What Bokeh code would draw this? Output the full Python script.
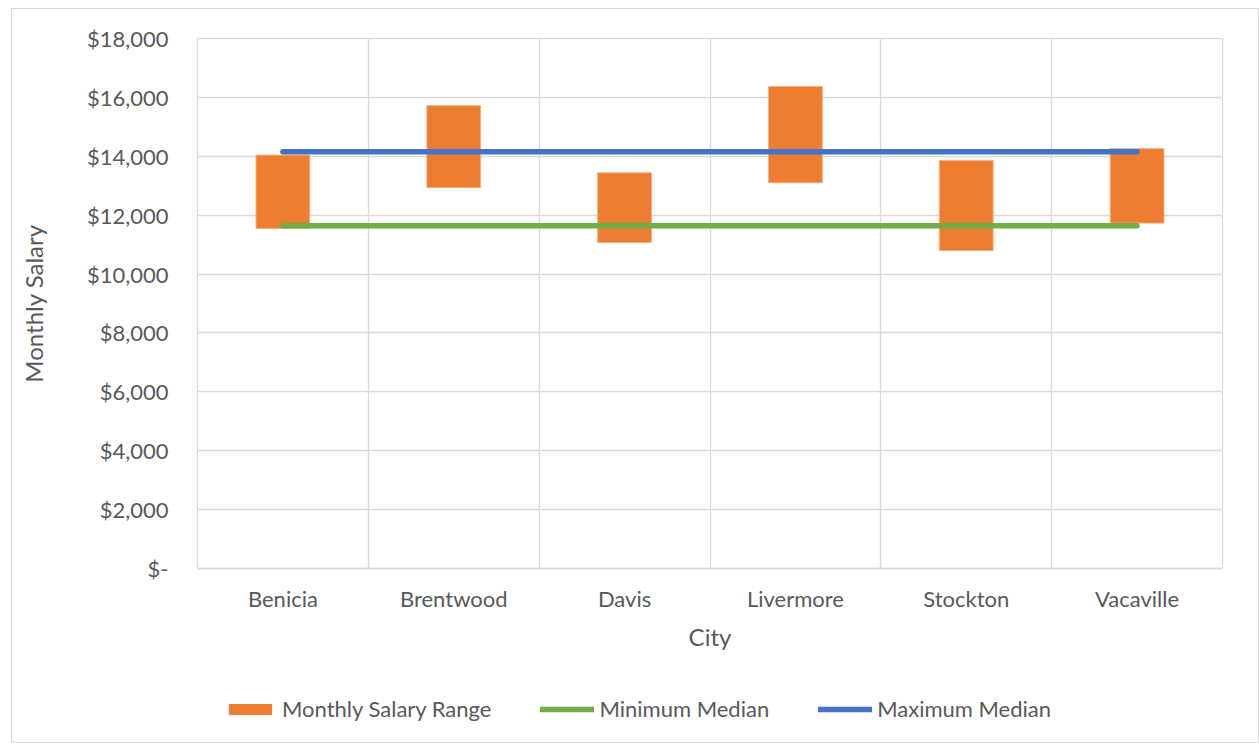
from bokeh.plotting import figure
from bokeh.layouts import column
from bokeh.models import (ColumnDataSource, FactorRange, Range1d, FixedTicker,
                          CustomJSTickFormatter, Legend, LegendItem)
from bokeh.embed import file_html
from bokeh.resources import INLINE

# ---- data ----
cities = ["Benicia", "Brentwood", "Davis", "Livermore", "Stockton", "Vacaville"]
range_low = [11550, 12940, 11070, 13100, 10800, 11730]
range_high = [14040, 15720, 13440, 16370, 13860, 14260]
min_median = [11640, 11640, 11640, 11640, 11640, 11640]
max_median = [14150, 14150, 14150, 14150, 14150, 14150]
y_ticks = [0, 2000, 4000, 6000, 8000, 10000, 12000, 14000, 16000, 18000]
series_names = ["Monthly Salary Range", "Minimum Median", "Maximum Median"]

FONT = "Lato"
TXT = "#595959"
GRID = "#D9D9D9"
ORANGE, GREEN, BLUE = "#ED7D31", "#70AD47", "#4472C4"

src = ColumnDataSource(dict(city=cities, low=range_low, high=range_high,
                            mn=min_median, mx=max_median))

W = 1246
p = figure(width=W, height=659, output_backend="svg", toolbar_location=None,
           x_range=FactorRange(*cities, range_padding=0),
           y_range=Range1d(0, 18000),
           min_border_left=185, min_border_right=36, min_border_top=29,
           min_border_bottom=100)

p.vbar(x="city", bottom="low", top="high", width=0.315, source=src,
       fill_color=ORANGE, line_color="#F4B183", line_width=1)
p.line(x="city", y="mn", source=src, line_color=GREEN, line_width=5.5, line_cap="round")
p.line(x="city", y="mx", source=src, line_color=BLUE, line_width=5.5, line_cap="round")

# frame / grid
p.outline_line_color = GRID
p.outline_line_width = 1.3
p.ygrid.grid_line_color = GRID
p.ygrid.grid_line_width = 1.3
p.ygrid.ticker = FixedTicker(ticks=y_ticks)
p.xgrid.grid_line_color = GRID
p.xgrid.grid_line_width = 1.3
p.xgrid.ticker = FixedTicker(ticks=[1, 2, 3, 4, 5])

# y axis
p.yaxis.ticker = FixedTicker(ticks=y_ticks)
p.yaxis.formatter = CustomJSTickFormatter(
    code='return tick == 0 ? "$-" : "$" + tick.toLocaleString("en-US");')
p.yaxis.axis_line_color = None
p.yaxis.major_tick_line_color = None
p.yaxis.minor_tick_line_color = None
p.yaxis.major_tick_out = 0
p.yaxis.major_label_standoff = 29
p.yaxis.major_label_text_font = FONT
p.yaxis.major_label_text_font_size = "22px"
p.yaxis.major_label_text_color = TXT
p.yaxis.axis_label = "Monthly Salary"
p.yaxis.axis_label_text_font = FONT
p.yaxis.axis_label_text_font_size = "24px"
p.yaxis.axis_label_text_font_style = "normal"
p.yaxis.axis_label_text_color = TXT
p.yaxis.axis_label_standoff = 36

# x axis
p.xaxis.axis_line_color = GRID
p.xaxis.axis_line_width = 1.3
p.xaxis.major_tick_line_color = None
p.xaxis.minor_tick_line_color = None
p.xaxis.major_tick_out = 0
p.xaxis.major_label_standoff = 16
p.xaxis.major_label_text_font = FONT
p.xaxis.major_label_text_font_size = "22px"
p.xaxis.major_label_text_color = TXT
p.xaxis.axis_label = "City"
p.xaxis.axis_label_text_font = FONT
p.xaxis.axis_label_text_font_size = "24px"
p.xaxis.axis_label_text_font_style = "normal"
p.xaxis.axis_label_text_color = TXT
p.xaxis.axis_label_standoff = 7

# ---- legend strip (separate small figure underneath) ----
# the same series are attached here only to supply the legend swatches; on this
# numeric range the category names map to nothing, so no marks are drawn
pl = figure(width=W, height=74, output_backend="svg", toolbar_location=None,
            x_range=Range1d(0, 1), y_range=Range1d(-2, -1),
            min_border=0, x_axis_location=None, y_axis_location=None)
pl.xgrid.visible = False
pl.ygrid.visible = False
pl.outline_line_color = None
lr_bar = pl.vbar(x="city", bottom="low", top="high", width=0.315, source=src,
                 fill_color=ORANGE, line_color=None)
lr_min = pl.line(x="city", y="mn", source=src, line_color=GREEN, line_width=5.5,
                 line_cap="round")
lr_max = pl.line(x="city", y="mx", source=src, line_color=BLUE, line_width=5.5,
                 line_cap="round")

legend = Legend(items=[
    LegendItem(label=series_names[0], renderers=[lr_bar]),
    LegendItem(label=series_names[1], renderers=[lr_min]),
    LegendItem(label=series_names[2], renderers=[lr_max]),
], orientation="horizontal", location=(26, 20))
legend.glyph_width = 54
legend.glyph_height = 14
legend.label_standoff = 5
legend.spacing = 49
legend.padding = 0
legend.margin = 0
legend.border_line_color = None
legend.background_fill_alpha = 0
legend.label_text_font = FONT
legend.label_text_font_size = "22px"
legend.label_text_color = TXT
legend.label_height = 20
pl.add_layout(legend, "center")

layout = column(p, pl, spacing=0)
layout.styles = {"border": "1px solid #D9D9D9", "margin-left": "11px", "margin-top": "8px"}

open("out.html", "w").write(file_html(layout, INLINE))
